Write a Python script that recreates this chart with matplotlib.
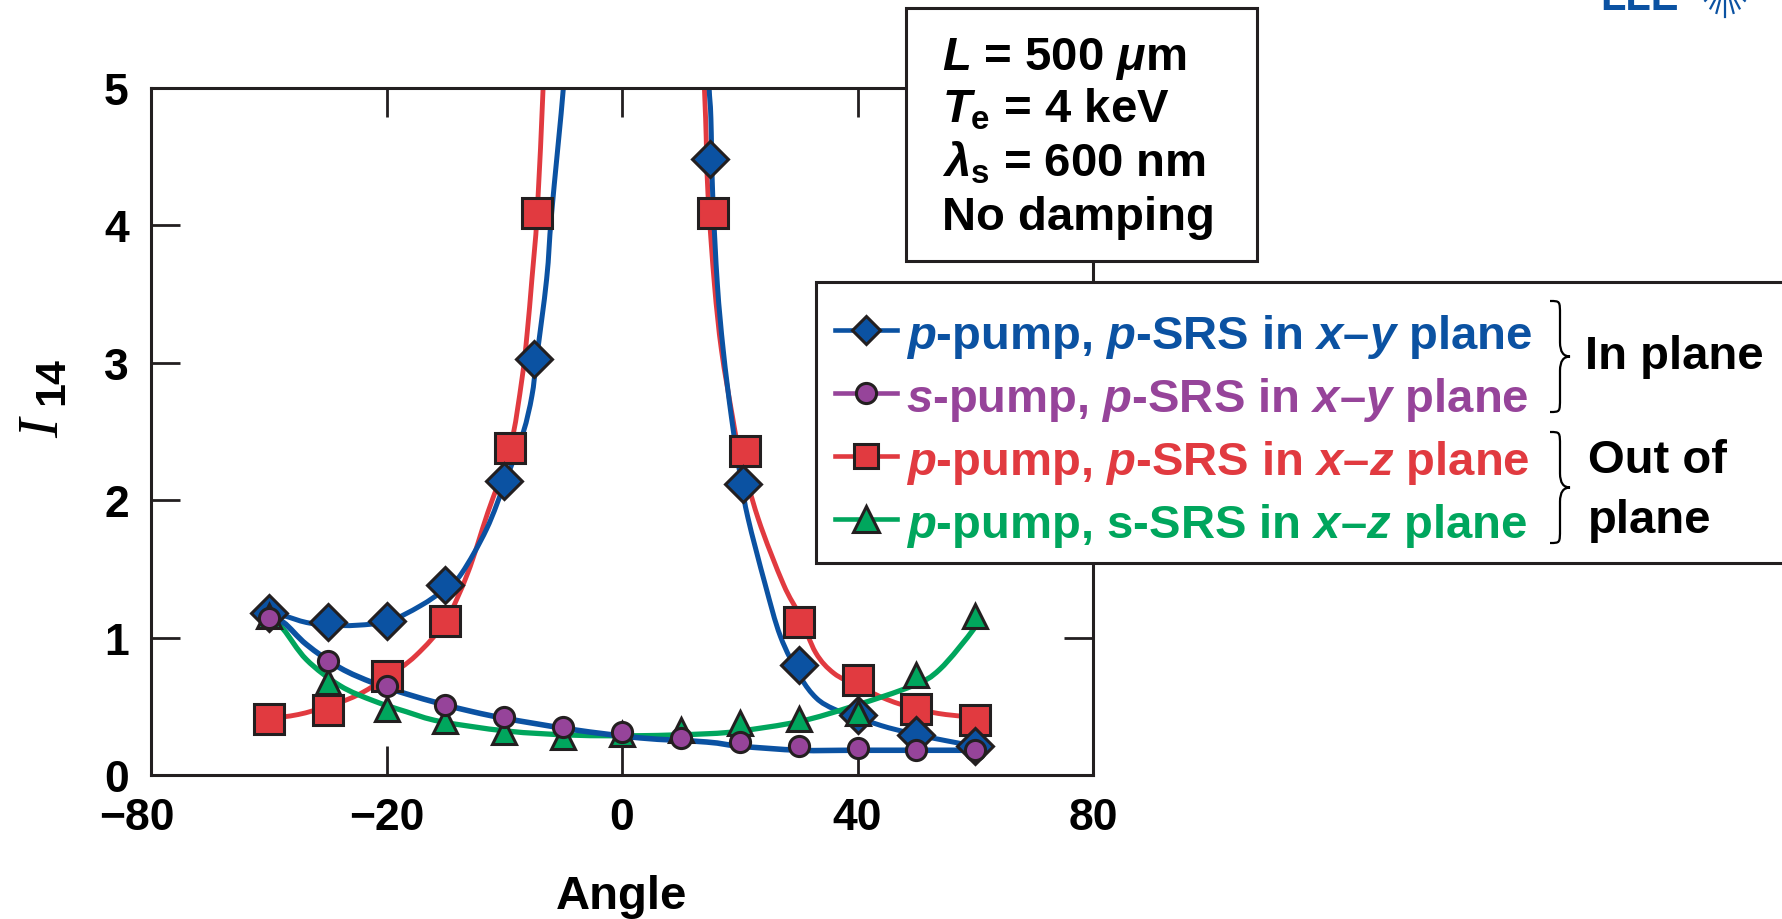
import numpy as np
import matplotlib.pyplot as plt
from matplotlib.path import Path
from matplotlib.patches import PathPatch, Rectangle
from matplotlib.lines import Line2D
from matplotlib.transforms import ScaledTranslation

plt.rcParams['font.family'] = 'Liberation Sans'
plt.rcParams['font.weight'] = 'bold'
plt.rcParams['mathtext.fontset'] = 'custom'
plt.rcParams['mathtext.it'] = 'Liberation Sans:bold:italic'
plt.rcParams['mathtext.rm'] = 'Liberation Sans:bold'
plt.rcParams['mathtext.bf'] = 'Liberation Sans:bold'
plt.rcParams['mathtext.sf'] = 'Liberation Sans:bold'

BLUE = '#0B52A2'
PURPLE = '#96449A'
RED = '#E13A40'
GREEN = '#00A65D'
DARK = '#231F20'

# ---- measured points (markers) ----
diam_x = [-60, -50, -40, -30, -20, -15, 15, 20.5, 30, 40, 50, 60]
diam_y = [1.18, 1.11, 1.12, 1.38, 2.14, 3.03, 4.48, 2.12, 0.80, 0.44, 0.29, 0.21]

circ_x = [-60, -50, -40, -30, -20, -10, 0, 10, 20, 30, 40, 50, 60]
circ_y = [1.14, 0.83, 0.65, 0.51, 0.42, 0.35, 0.31, 0.27, 0.24, 0.21, 0.20, 0.18, 0.18]

sq_x = [-60, -50, -40, -30, -19, -14.4, 15.4, 20.9, 30, 40, 50, 60]
sq_y = [0.41, 0.47, 0.72, 1.12, 2.38, 4.09, 4.09, 2.36, 1.11, 0.69, 0.48, 0.40]

tri_x = [-60, -50, -40, -30, -20, -10, 0, 10, 20, 30, 40, 50, 60]
tri_y = [1.16, 0.68, 0.48, 0.39, 0.31, 0.28, 0.30, 0.33, 0.38, 0.41, 0.45, 0.73, 1.16]

# ---- fitted curves ----
diam_fit_lx = [-60, -57.5, -53.6, -49.6, -45, -39.6, -34.3, -29.8, -27.2, -23, -19.7,
               -16.8, -15.3, -14.5, -12.8, -11.95, -9.96, -9.7]
diam_fit_ly = [1.18, 1.16, 1.11, 1.09, 1.09, 1.12, 1.23, 1.36, 1.47, 1.79, 2.15,
               2.49, 2.76, 3.03, 3.61, 4.09, 5.0, 5.3]
diam_fit_rx = [14.6, 14.8, 15.1, 15.4, 16.2, 17.2, 18.6, 20.2, 21.4, 24.3, 26.9, 30.2,
               33, 36, 39.5, 44, 49.4, 55, 60]
diam_fit_ry = [5.3, 5.0, 4.78, 4.23, 3.57, 3.09, 2.60, 2.15, 1.87, 1.39, 1.01, 0.72,
               0.56, 0.48, 0.43, 0.36, 0.30, 0.25, 0.21]

circ_fit_x = [-60, -57.5, -53.6, -47.9, -42.2, -36.6, -30.9, -25.3, -19.6, -8.3, 3.1,
              14.4, 20, 30.2, 39.2, 50, 60]
circ_fit_y = [1.14, 1.11, 0.95, 0.78, 0.67, 0.59, 0.52, 0.46, 0.41, 0.33, 0.27,
              0.24, 0.21, 0.18, 0.18, 0.18, 0.18]

sq_fit_lx = [-60, -55, -50, -45, -40, -35, -30, -26.2, -22.8, -19.0, -17.0, -16.1,
             -15.3, -14.4, -13.4, -13.2]
sq_fit_ly = [0.41, 0.44, 0.50, 0.58, 0.71, 0.87, 1.12, 1.47, 1.91, 2.38, 2.88, 3.22,
             3.61, 4.09, 5.0, 5.3]
sq_fit_rx = [13.7, 14.2, 14.6, 15.7, 16.9, 18.8, 19.9, 23.1, 27.4, 30.2, 32.9, 36,
             40, 45, 50, 55, 60]
sq_fit_ry = [5.3, 4.78, 4.23, 3.57, 3.09, 2.60, 2.36, 1.87, 1.39, 1.16, 0.89, 0.74,
             0.65, 0.55, 0.48, 0.44, 0.42]

tri_fit_x = [-60, -57.5, -53.6, -47.9, -42.2, -36.6, -30.9, -19.6, -8.3, 3.1, 14.4,
             20, 30.2, 39.2, 49.4, 54, 59.7, 60]
tri_fit_y = [1.16, 1.06, 0.84, 0.65, 0.54, 0.46, 0.39, 0.32, 0.29, 0.286, 0.30,
             0.32, 0.39, 0.50, 0.65, 0.77, 1.06, 1.12]

xtick_vals = [-80, -40, 0, 40, 80]
xtick_text = ['\u221280', '\u221220', '0', '40', '80']
ytick_vals = [0, 1, 2, 3, 4, 5]

legend_labels = ['$p$-pump, $p$-SRS in $x$\u2013$y$ plane',
                 '$s$-pump, $p$-SRS in $x$\u2013$y$ plane',
                 '$p$-pump, $p$-SRS in $x$\u2013$z$ plane',
                 '$p$-pump, s-SRS in $x$\u2013$z$ plane']

box_lines = [r'$L$ = 500 $\mu$m', r'$T_{\mathrm{e}}$ = 4 keV',
             r'$\lambda_{\mathrm{s}}$ = 600 nm', 'No damping']

W, H = 1782, 920
fig = plt.figure(figsize=(W / 100, H / 100), dpi=100)


def fx(px):
    return px / W


def fy(py):
    return 1 - py / H


def smooth_curve(ax, xs, ys, **kw):
    # Catmull-Rom through the points, drawn as cubic Bezier segments
    p = np.column_stack([xs, ys]).astype(float)
    n = len(p)
    verts = [p[0]]
    codes = [Path.MOVETO]
    for i in range(n - 1):
        a = p[max(i - 1, 0)]
        d = p[min(i + 2, n - 1)]
        c1 = p[i] + (p[i + 1] - a) / 6
        c2 = p[i + 1] - (d - p[i]) / 6
        verts += [c1, c2, p[i + 1]]
        codes += [Path.CURVE4] * 3
    patch = PathPatch(Path(verts, codes), fill=False, capstyle='round',
                      joinstyle='round', **kw)
    ax.add_patch(patch)


ax = fig.add_axes([fx(151), fy(776), (1093 - 151) / W, (776 - 89) / H])

smooth_curve(ax, sq_fit_lx, sq_fit_ly, edgecolor=RED, lw=3.5, zorder=2)
smooth_curve(ax, sq_fit_rx, sq_fit_ry, edgecolor=RED, lw=3.5, zorder=2)
smooth_curve(ax, diam_fit_lx, diam_fit_ly, edgecolor=BLUE, lw=3.6, zorder=2.1)
smooth_curve(ax, diam_fit_rx, diam_fit_ry, edgecolor=BLUE, lw=3.6, zorder=2.1)
smooth_curve(ax, tri_fit_x, tri_fit_y, edgecolor=GREEN, lw=3.8, zorder=2.2)
smooth_curve(ax, circ_fit_x, circ_fit_y, edgecolor=BLUE, lw=4.0, zorder=2.3)

mk = dict(linestyle='none', markeredgecolor=DARK, markeredgewidth=2.2)
ax.plot(sq_x, sq_y, marker='s', ms=21, markerfacecolor=RED, zorder=3, **mk)
ax.plot(diam_x, diam_y, marker='D', ms=18, markerfacecolor=BLUE, zorder=4, **mk)
ax.plot(tri_x, tri_y, marker='^', ms=17.5, markerfacecolor=GREEN, zorder=5, **mk)
ax.plot(circ_x, circ_y, marker='o', ms=14.5, markerfacecolor=PURPLE, zorder=6, **mk)

ax.set_xlim(-80, 80)
ax.set_ylim(0, 5)
for sp in ax.spines.values():
    sp.set_linewidth(2.2)
    sp.set_color(DARK)

ax.set_xticks(xtick_vals)
ax.set_xticklabels([])
ax.set_yticks(ytick_vals)
ax.set_yticklabels([str(v) for v in ytick_vals])
ax.tick_params(direction='in', length=21, width=2, color=DARK, top=True, right=True)
ax.tick_params(axis='y', pad=16, labelsize=32)

for v, s in zip(xtick_vals, xtick_text):
    dx = -14 if v == -80 else 0
    tr = ax.get_xaxis_transform() + ScaledTranslation(dx / 100, -22 / 100, fig.dpi_scale_trans)
    ax.text(v, 0, s, transform=tr, ha='center', va='top', fontsize=32, color='black')

# axis titles
fig.text(fx(622), fy(897), 'Angle', ha='center', va='center', fontsize=34)
fig.text(fx(44), fy(428), 'I', rotation=90, ha='center', va='center',
         family='Liberation Serif', style='italic', fontweight='normal', fontsize=42)
fig.text(fx(52), fy(381), '14', rotation=90, ha='center', va='center', fontsize=31)

# parameter box
fig.patches.append(Rectangle((fx(906), fy(262)), (1257 - 906) / W, (262 - 9) / H,
                             transform=fig.transFigure, facecolor='white',
                             edgecolor=DARK, lw=2.2, zorder=5))
for s, base in zip(box_lines, [70, 123, 177, 230]):
    fig.text(fx(942), fy(base), s, ha='left', va='baseline', fontsize=34, zorder=6)

# legend box
fig.patches.append(Rectangle((fx(816), fy(564)), (1800 - 816) / W, (564 - 283) / H,
                             transform=fig.transFigure, facecolor='white',
                             edgecolor=DARK, lw=2.2, zorder=5))
handles = [('D', BLUE, 14), ('o', PURPLE, 14.5), ('s', RED, 17.5), ('^', GREEN, 19)]
for (m, c, ms), lab, row in zip(handles, legend_labels, [331, 394, 457, 520]):
    fig.add_artist(Line2D([fx(835), fx(866), fx(897)], [fy(row)] * 3,
                          transform=fig.transFigure, color=c, lw=3.3,
                          marker=m, markevery=[1], ms=ms, markerfacecolor=c,
                          markeredgecolor=DARK, markeredgewidth=2.2, zorder=6))
    fig.text(fx(906), fy(row), lab, ha='left', va='center_baseline', color=c,
             fontsize=34, zorder=6)


def brace(x0, top, bottom, w):
    mid = (top + bottom) / 2
    r = 14
    xm = x0 + w / 2
    pts = [(x0, top), (xm, top), (xm, top), (xm, top + r),
           (xm, mid - r), (xm, mid), (x0 + w, mid),
           (xm, mid), (xm, mid + r),
           (xm, bottom - r), (xm, bottom), (xm, bottom), (x0, bottom)]
    codes = [Path.MOVETO, Path.CURVE4, Path.CURVE4, Path.CURVE4,
             Path.LINETO, Path.CURVE3, Path.CURVE3,
             Path.CURVE3, Path.CURVE3,
             Path.LINETO, Path.CURVE4, Path.CURVE4, Path.CURVE4]
    verts = [(fx(a), fy(b)) for a, b in pts]
    fig.patches.append(PathPatch(Path(verts, codes), transform=fig.transFigure,
                                 fill=False, edgecolor='black', lw=1.6, zorder=6))


brace(1550, 302, 413, 20)
brace(1550, 433, 544, 20)
fig.text(fx(1585), fy(357), 'In plane', ha='left', va='center', fontsize=34, zorder=7)
fig.text(fx(1588), fy(461), 'Out of', ha='left', va='center', fontsize=34, zorder=7)
fig.text(fx(1588), fy(516), 'plane', ha='left', va='center_baseline', fontsize=34, zorder=7)

# corner logo, mostly above the top edge
fig.text(fx(1600), fy(10), 'LLE', ha='left', va='baseline', color=BLUE,
         fontsize=30, fontweight='bold')
cx, cy = 1725, -18
for ang, r2 in zip([-135, -118, -105, -90, -75, -62, -45], [28, 31, 33, 36, 33, 31, 28]):
    a = np.deg2rad(ang)
    x1, y1 = cx + 14 * np.cos(a), cy - 14 * np.sin(a)
    x2, y2 = cx + r2 * np.cos(a), cy - r2 * np.sin(a)
    fig.add_artist(Line2D([fx(x1), fx(x2)], [fy(y1), fy(y2)], transform=fig.transFigure,
                          color=BLUE, lw=1.6))

fig.savefig('out.png', dpi=100)
